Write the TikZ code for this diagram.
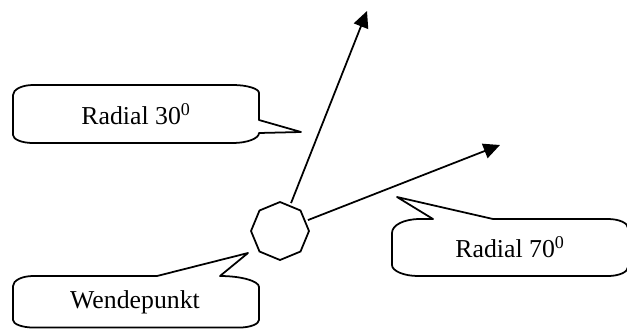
\documentclass[tikz,border=0pt]{standalone}
\usepackage{fontspec}
\setmainfont{Liberation Serif}
\usepackage{tikz}
\usetikzlibrary{shapes.geometric,arrows.meta}
\tikzset{
  bubble/.style={draw,line width=1.5pt,line join=round},
  ray/.style={-{Triangle[length=14pt,width=13pt]},line width=1.5pt,shorten <=2pt},
}
\newcommand{\grad}[1]{#1\textsuperscript{0}}

\begin{document}
\begin{tikzpicture}[x=0.03cm,y=-0.03cm,font=\fontsize{22}{24}\selectfont]
\useasboundingbox (0,0) rectangle (627,328);
\clip (0,0) rectangle (627,328);
% turning point and the two radials
\node[draw,line width=1.5pt,regular polygon,regular polygon sides=8,shape border rotate=22.5,
      minimum size=1.74cm,inner sep=0pt] (oct) at (280,231) {};
\coordinate (tip30) at (367,11);
\coordinate (tip70) at (500,145);
\draw[ray] (oct) -- (tip30);
\draw[ray] (oct) -- (tip70);
% callouts
\draw[bubble] (13,95) .. controls (13,89.5) and (22,85) .. (33,85) -- (233,85)
   .. controls (247,85) and (259,88.6) .. (259,93) -- (259,120) -- (301,132) -- (259,133)
   .. controls (259,138.5) and (247,143) .. (233,143) -- (33,143)
   .. controls (22,143) and (13,139.4) .. (13,135) -- cycle;
\node (r30) at (136,114) {Radial \grad{30}};
\draw[bubble] (392,233) .. controls (392,225) and (404,219) .. (420,219) -- (433,219) -- (397,197) -- (493,219)
   -- (608,219) .. controls (619,219) and (628,223) .. (628,228) -- (628,267)
   .. controls (628,272) and (619,276) .. (608,276) -- (418,276)
   .. controls (404,276) and (392,271) .. (392,265) -- cycle;
\node (r70) at (510,247) {Radial \grad{70}};
\draw[bubble] (13,286) .. controls (13,280.5) and (22,276) .. (33,276) -- (157,276) -- (248,253) -- (220,276)
   .. controls (241,276) and (259,281) .. (259,287) -- (259,320)
   .. controls (259,324) and (250,327.5) .. (240,327.5) -- (33,327.5)
   .. controls (22,327.5) and (13,324) .. (13,320) -- cycle;
\node (wende) at (135,302) {Wendepunkt};
\end{tikzpicture}
\end{document}
